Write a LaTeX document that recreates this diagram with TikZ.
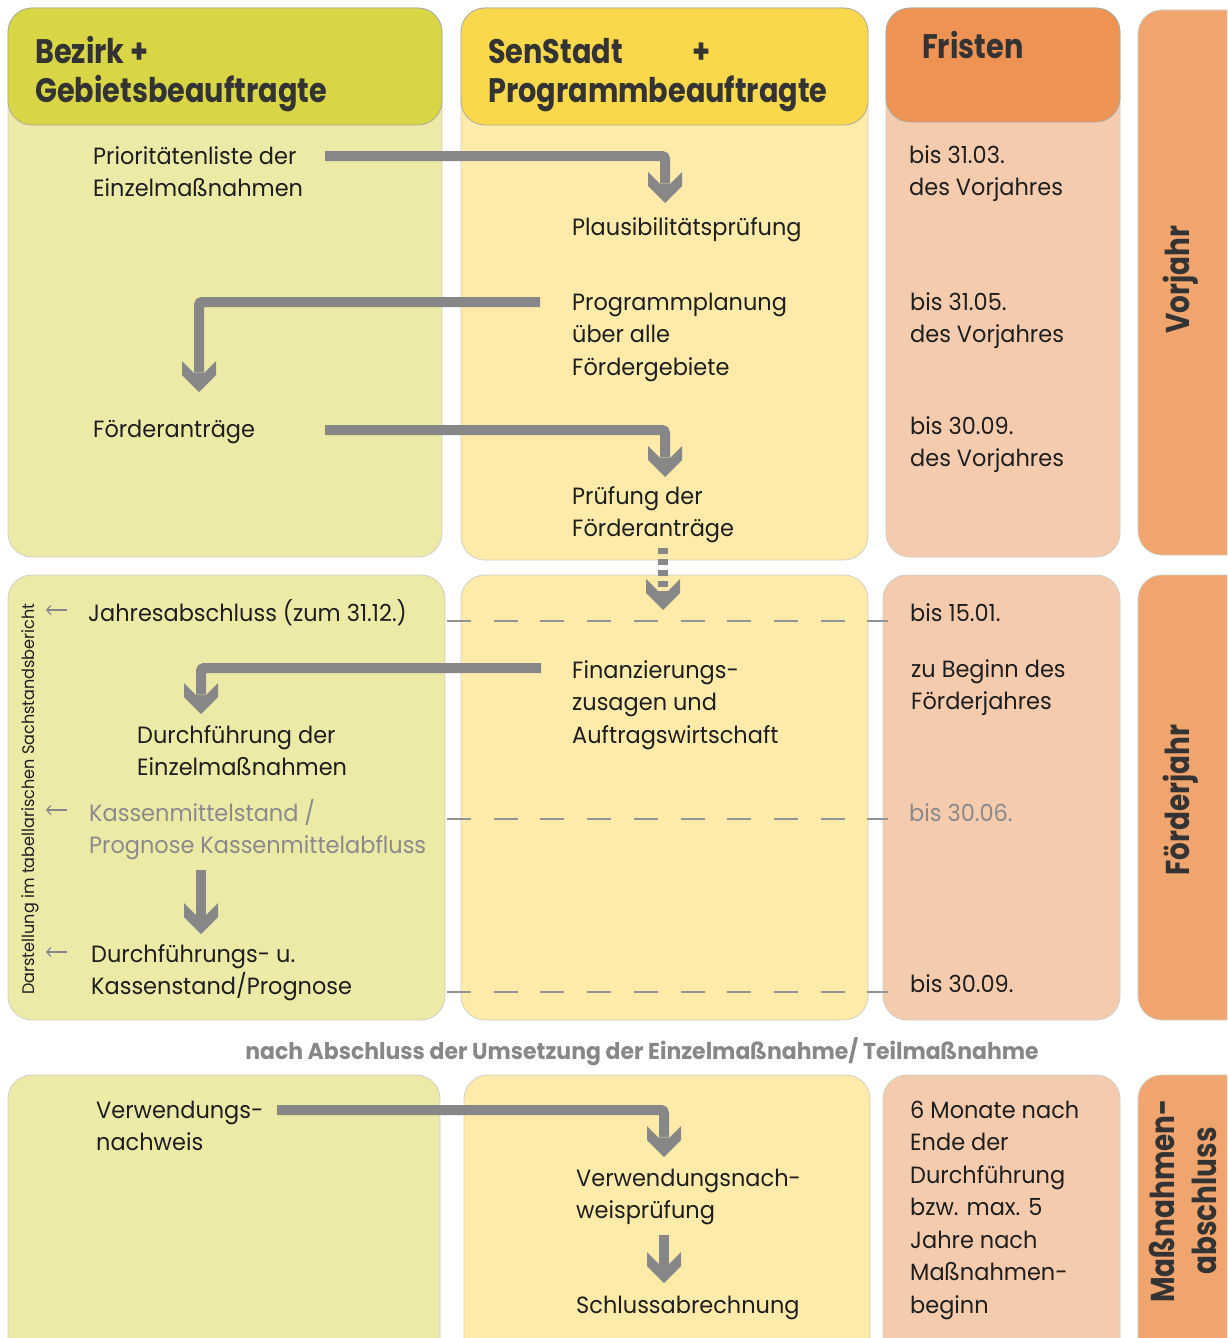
\documentclass[tikz,border=0pt]{standalone}
\usepackage{fontspec}
\setmainfont{Poppins}[FakeStretch=0.955]
\newfontfamily\headfam{Poppins}[FakeStretch=0.845]
\usetikzlibrary{arrows.meta}
\definecolor{c1h}{HTML}{D9D645}
\definecolor{c1b}{HTML}{EDEAA8}
\definecolor{c2h}{HTML}{FAD84C}
\definecolor{c2b}{HTML}{FEEBAA}
\definecolor{c3h}{HTML}{EF9355}
\definecolor{c3b}{HTML}{F5CBAE}
\definecolor{c4}{HTML}{F0A46E}
\definecolor{agray}{HTML}{878787}
\definecolor{tgray}{HTML}{8A8A8A}
\definecolor{tdark}{HTML}{1E1E1E}
\definecolor{thead}{HTML}{333333}
\definecolor{edgec}{HTML}{CFCFC4}
\definecolor{hedge}{HTML}{ABAB9F}
\newcommand\bodyfnt{\fontsize{23.5}{32.5}\selectfont}
\newcommand\headfnt{\headfam\bfseries\fontsize{34}{39}\selectfont}
\newcommand\vertfnt{\headfam\bfseries\fontsize{33}{42}\selectfont}
\newcommand\smallfnt{\fontsize{16.8}{20}\selectfont}
\newcommand\nachfnt{\bfseries\fontsize{23}{28}\selectfont}
\pgfdeclarearrow{
  name = Chev,
  setup code = {
    \pgfarrowssettipend{0pt}
    \pgfarrowssetlineend{-19.5pt}
    \pgfarrowsupperhullpoint{0pt}{0pt}
    \pgfarrowsupperhullpoint{-31pt}{17pt}
  },
  drawing code = {
    \pgfpathmoveto{\pgfqpoint{0pt}{0pt}}
    \pgfpathlineto{\pgfqpoint{-17pt}{17pt}}
    \pgfpathlineto{\pgfqpoint{-31pt}{17pt}}
    \pgfpathlineto{\pgfqpoint{-19pt}{5pt}}
    \pgfpathlineto{\pgfqpoint{-19pt}{-5pt}}
    \pgfpathlineto{\pgfqpoint{-31pt}{-17pt}}
    \pgfpathlineto{\pgfqpoint{-17pt}{-17pt}}
    \pgfpathclose
    \pgfusepathqfill
  }
}
\tikzset{
  body/.style={draw=edgec, line width=0.8pt, rounded corners=24pt},
  head/.style={draw=hedge, line width=0.8pt, rounded corners=24pt},
  txt/.style={anchor=base west, inner sep=0pt, align=left, font=\bodyfnt, text=tdark},
  gtxt/.style={txt, text=tgray},
  htxt/.style={anchor=base west, inner sep=0pt, align=left, font=\headfnt, text=thead},
  vtxt/.style={rotate=90, inner sep=0pt, align=center, font=\vertfnt, text=thead},
  flow/.style={color=agray, line width=10pt, -Chev, rounded corners=3pt},
  dflow/.style={flow, dash pattern=on 6pt off 5pt},
  sep/.style={draw=agray!90, line width=1.3pt, dash pattern=on 24pt off 22.7pt},
  ptr/.style={draw=agray, line width=1.2pt, -{Straight Barb[length=4pt,width=9pt]}},
}
\begin{document}
\begin{tikzpicture}[x=1pt, y=-1pt]
\useasboundingbox (0,0) rectangle (1227,1338);
\clip (0,0) rectangle (1227,1338);
\fill[white] (0,0) rectangle (1227,1338);
% ---- row 1
\path[body, fill=c1b] (8,8) rectangle (442,557);
\path[head, fill=c1h] (8,8) rectangle (442,125);
\path[body, fill=c2b] (461,8) rectangle (868,560);
\path[head, fill=c2h] (461,8) rectangle (868,125);
\path[body, fill=c3b] (886,8) rectangle (1120,557);
\path[head, fill=c3h] (886,8) rectangle (1120,122);
\path[body, fill=c4] (1138,10) rectangle (1260,555);
% ---- row 2
\path[body, fill=c1b] (8,575) rectangle (445,1020);
\path[body, fill=c2b] (461,575) rectangle (868,1020);
\path[body, fill=c3b] (883,575) rectangle (1120,1020);
\path[body, fill=c4] (1138,575) rectangle (1260,1020);
% ---- row 3
\path[body, fill=c1b] (8,1075) rectangle (440,1370);
\path[body, fill=c2b] (464,1075) rectangle (870,1370);
\path[body, fill=c3b] (883,1075) rectangle (1120,1370);
\path[body, fill=c4] (1138,1075) rectangle (1260,1370);

% headers
\node[htxt] (h1) at (35,102) {Bezirk +\\Gebietsbeauftragte};
\node[htxt] (h2) at (488,102) {SenStadt\hspace{70pt}+\\Programmbeauftragte};
\node[htxt] (h3) at (922,59) {Fristen};
\node[vtxt] (v1) at (1181,280) {Vorjahr};
\node[vtxt] (v2) at (1181,800) {Förderjahr};
\node[vtxt] (v3) at (1183,1201) {Maßnahmen-\\abschluss};

% row 1 texts
\node[txt] (prio) at (93,196.5) {Prioritätenliste der\\Einzelmaßnahmen};
\node[txt] (plaus) at (572,235) {Plausibilitätsprüfung};
\node[txt] (plan) at (572,375) {Programmplanung\\über alle\\Fördergebiete};
\node[txt] (antr) at (93,437) {Förderanträge};
\node[txt] (pruef) at (572,536.5) {Prüfung der\\Förderanträge};
\node[txt] (f1) at (909,195.5) {bis 31.03.\\des Vorjahres};
\node[txt] (f2) at (910,342.5) {bis 31.05.\\des Vorjahres};
\node[txt] (f3) at (910,466.5) {bis 30.09.\\des Vorjahres};

% row 2 texts
\node[txt] (jahr) at (88,621) {Jahresabschluss (zum 31.12.)};
\node[txt] (fin) at (572,743) {Finanzierungs-\\zusagen und\\Auftragswirtschaft};
\node[txt] (durch) at (137,775.5) {Durchführung der\\Einzelmaßnahmen};
\node[gtxt] (kass) at (89,853.5) {Kassenmittelstand /\\Prognose Kassenmittelabfluss};
\node[txt] (dks) at (91,994.5) {Durchführungs- u.\\Kassenstand/Prognose};
\node[txt] (f4) at (910,621) {bis 15.01.};
\node[txt] (f5) at (911,709.5) {zu Beginn des\\Förderjahres};
\node[gtxt] (f6) at (909,821) {bis 30.06.};
\node[txt] (f7) at (910,992) {bis 30.09.};
\node[rotate=90, inner sep=0pt, font=\smallfnt, text=tdark] (darst) at (30,799) {Darstellung im tabellarischen Sachstandsbericht};

% row 3 texts
\node[anchor=base, inner sep=0pt, font=\nachfnt, text=agray] (nach) at (642,1059) {nach Abschluss der Umsetzung der Einzelmaßnahme/ Teilmaßnahme};
\node[txt] (verw) at (96,1150.5) {Verwendungs-\\nachweis};
\node[txt] (verwp) at (576,1218.5) {Verwendungsnach-\\weisprüfung};
\node[txt] (schl) at (576,1313) {Schlussabrechnung};
\node[txt] (f8) at (910,1313) {6 Monate nach\\Ende der\\Durchführung\\bzw. max. 5\\Jahre nach\\Maßnahmen-\\beginn};

% dashed separators
\coordinate (s1a) at (447,621); \coordinate (s1b) at (888,621);
\coordinate (s2a) at (447,819); \coordinate (s2b) at (888,819);
\coordinate (s3a) at (447,992); \coordinate (s3b) at (888,992);
\draw[sep] (s1a) -- (s1b);
\draw[sep] (s2a) -- (s2b);
\draw[sep] (s3a) -- (s3b);

% small pointers
\coordinate (p1) at (67,610); \coordinate (q1) at (46,610);
\coordinate (p2) at (67,810); \coordinate (q2) at (46,810);
\coordinate (p3) at (67,952); \coordinate (q3) at (46,952);
\draw[ptr] (p1) -- (q1);
\draw[ptr] (p2) -- (q2);
\draw[ptr] (p3) -- (q3);

% flow arrows
\coordinate (a1s) at (325,156); \coordinate (a1e) at (665,203);
\coordinate (a2s) at (540,302); \coordinate (a2e) at (199,392);
\coordinate (a3s) at (325,430); \coordinate (a3e) at (665,477);
\coordinate (a4s) at (663,548); \coordinate (a4e) at (663,610);
\coordinate (a5s) at (541,668); \coordinate (a5e) at (201,714);
\coordinate (a6s) at (201,870); \coordinate (a6e) at (201,934);
\coordinate (a7s) at (277,1110); \coordinate (a7e) at (664,1157);
\coordinate (a8s) at (664,1235); \coordinate (a8e) at (664,1283);
\draw[flow] (a1s) -| (a1e);
\draw[flow] (a2s) -| (a2e);
\draw[flow] (a3s) -| (a3e);
\draw[dflow] (a4s) -- (a4e);
\draw[flow] (a5s) -| (a5e);
\draw[flow] (a6s) -- (a6e);
\draw[flow] (a7s) -| (a7e);
\draw[flow] (a8s) -- (a8e);
\end{tikzpicture}
\end{document}
